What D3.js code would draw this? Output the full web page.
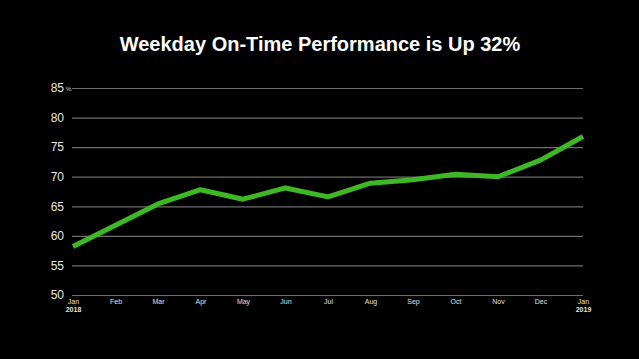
<!DOCTYPE html>
<html><head><meta charset="utf-8">
<script src="https://cdn.jsdelivr.net/npm/d3@7"></script>
<style>body{margin:0;background:#000;}svg{display:block;}</style>
</head><body>
<script>
const months = ["Jan","Feb","Mar","Apr","May","Jun","Jul","Aug","Sep","Oct","Nov","Dec","Jan"];
const years = ["2018","","","","","","","","","","","","2019"];
const values = [58.2, 61.8, 65.4, 67.8, 66.2, 68.1, 66.6, 68.9, 69.5, 70.4, 70.0, 72.8, 76.8];
const yTicks = [50,55,60,65,70,75,80,85];
const title = "Weekday On-Time Performance is Up 32%";

const W = 639, H = 359;
const svg = d3.select("body").append("svg").attr("width", W).attr("height", H);
svg.append("rect").attr("width", W).attr("height", H).attr("fill", "#000");

const x = d3.scalePoint().domain(d3.range(months.length)).range([73, 583]);
const y = d3.scaleLinear().domain([50, 85]).range([295, 88]);

svg.append("text").attr("x", 320).attr("y", 51).attr("text-anchor", "middle")
  .attr("fill", "#fff").attr("font-family", "Liberation Sans, Arial, sans-serif")
  .attr("font-weight", "bold").attr("font-size", 20).text(title);

const yAxis = svg.append("g").attr("transform", "translate(72,0)")
  .call(d3.axisLeft(y).tickValues(yTicks).tickSize(-511).tickPadding(8).tickFormat(d3.format("d")));
yAxis.select(".domain").remove();
yAxis.selectAll(".tick line").attr("stroke", "#6e6e6e").attr("stroke-width", 1.2);
yAxis.selectAll(".tick text").attr("fill", "#e8e8e8").attr("font-size", 12)
  .attr("font-family", "Liberation Sans, Arial, sans-serif");
svg.append("text").attr("x", 66).attr("y", 91).attr("fill", "#ddd").attr("font-size", 6)
  .attr("font-family", "Liberation Sans, Arial, sans-serif").text("%");

const xAxis = svg.append("g").attr("transform", "translate(0,295)")
  .call(d3.axisBottom(x).tickSize(0).tickPadding(4).tickFormat(i => months[i]));
xAxis.select(".domain").remove();
xAxis.selectAll(".tick text").attr("fill", "#e0e0e0").attr("font-size", 7)
  .attr("font-family", "Liberation Sans, Arial, sans-serif");
xAxis.selectAll(".tick").append("text").attr("y", 12).attr("dy", "0.71em")
  .attr("text-anchor", "middle").attr("fill", "#e0e0e0").attr("font-size", 7).attr("font-weight", "bold")
  .attr("font-family", "Liberation Sans, Arial, sans-serif").text(i => years[i]);

svg.append("path").datum(values)
  .attr("fill", "none").attr("stroke", "#3fb825").attr("stroke-width", 5)
  .attr("stroke-linejoin", "round")
  .attr("d", d3.line().x((d, i) => x(i)).y(d => y(d)));
</script>
</body></html>
